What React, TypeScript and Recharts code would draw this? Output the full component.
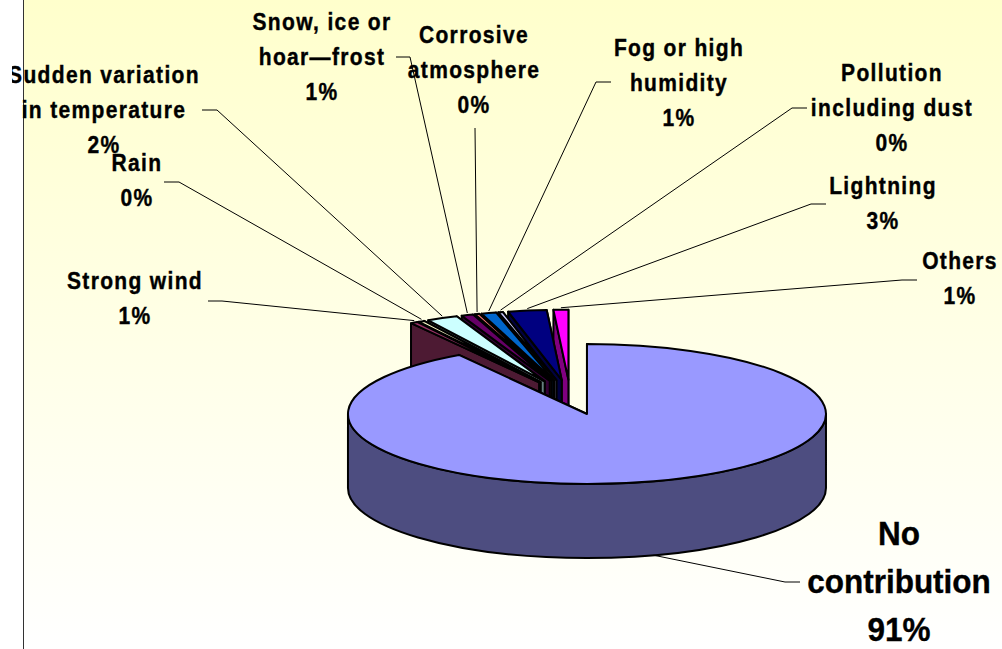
import { PieChart, Pie, Cell } from 'recharts';

// Slices in draw order: back of the pie first, the big slice last so it sits on top
const categories = [
  'Others',
  'Lightning',
  'Pollution including dust',
  'Fog or high humidity',
  'Corrosive atmosphere',
  'Snow, ice or hoar—frost',
  'Sudden variation in temperature',
  'Rain',
  'Strong wind',
  'No contribution',
];
const shares = [1.0, 2.6, 0.3, 1.0, 0.3, 0.8, 2.1, 0.4, 0.5, 91.0];
const sliceColors = [
  '#FF00FF', '#000080', '#CCCCFF', '#0066CC', '#FF8080',
  '#660066', '#CCFFFF', '#FFFFCC', '#993366', '#9999FF',
];
const wallColors = [
  '#800080', '#000040', '#666680', '#003366', '#804040',
  '#330033', '#668080', '#808066', '#4D1A33', '#4D4D80',
];

const data = categories.map((name, i) => ({ name, value: shares[i], fill: sliceColors[i], wall: wallColors[i] }));

const WIDTH = 1002;
const HEIGHT = 649;
const CX = 570.3;
const CY = 397.2;
const RX = 239;
const RY = 70;
const DEPTH = 74;
const EXPLODE = 0.25;
const FONT = '"Liberation Sans", Arial, sans-serif';

type Place = { x: number; y: number; text: string[]; from: [number, number]; bend: [number, number] };

// Where each callout sits and where its leader line leaves the text
const callouts: Record<string, Place> = {
  Others: { x: 960, y: 261, text: ['Others'], from: [917, 280], bend: [902, 280] },
  Lightning: { x: 883, y: 186, text: ['Lightning'], from: [826, 204], bend: [811, 204] },
  'Pollution including dust': { x: 892, y: 73, text: ['Pollution', 'including dust'], from: [807, 108], bend: [792, 108] },
  'Fog or high humidity': { x: 679, y: 48, text: ['Fog or high', 'humidity'], from: [611, 82], bend: [596, 82] },
  'Corrosive atmosphere': { x: 474, y: 35, text: ['Corrosive', 'atmosphere'], from: [475, 128], bend: [475, 128] },
  'Snow, ice or hoar—frost': { x: 322, y: 22, text: ['Snow, ice or', 'hoar—frost'], from: [396, 57], bend: [410, 57] },
  'Sudden variation in temperature': { x: 104, y: 75, text: ['Sudden variation', 'in temperature'], from: [202, 110], bend: [217, 110] },
  Rain: { x: 137, y: 163, text: ['Rain'], from: [164, 182], bend: [179, 182] },
  'Strong wind': { x: 135, y: 281, text: ['Strong wind'], from: [208, 301], bend: [222, 301] },
  'No contribution': { x: 899, y: 534, text: ['No', 'contribution'], from: [800, 582], bend: [785, 582] },
};

const rad = (deg: number) => (deg * Math.PI) / 180;

// Apex of a slice once it has been pulled out along its middle angle
const apexOf = (cx: number, cy: number, start: number, end: number, rx: number) => {
  const mid = rad((start + end) / 2);
  return {
    x: cx + EXPLODE * rx * Math.cos(mid),
    y: cy - EXPLODE * rx * (RY / RX) * Math.sin(mid),
  };
};

const arcPoint = (ax: number, ay: number, rx: number, deg: number) => ({
  x: ax + rx * Math.cos(rad(deg)),
  y: ay - rx * (RY / RX) * Math.sin(rad(deg)),
});

// Pie slice tilted into an ellipse with a side wall below it
const TiltedSlice = (props: any) => {
  const { cx, cy, outerRadius, startAngle, endAngle, fill, payload } = props;
  const rx = outerRadius;
  const ry = rx * (RY / RX);
  const apex = apexOf(cx, cy, startAngle, endAngle, rx);
  const p0 = arcPoint(apex.x, apex.y, rx, startAngle);
  const p1 = arcPoint(apex.x, apex.y, rx, endAngle);
  const large = endAngle - startAngle > 180 ? 1 : 0;
  const wall = payload?.wall ?? props.wall;
  const edge = { stroke: '#000', strokeWidth: 2, strokeLinejoin: 'round' as const };

  const top = `M${apex.x},${apex.y} L${p0.x},${p0.y} A${rx},${ry} 0 ${large} 0 ${p1.x},${p1.y} Z`;
  const radial = (p: { x: number; y: number }) =>
    `M${apex.x},${apex.y} L${p.x},${p.y} L${p.x},${p.y + DEPTH} L${apex.x},${apex.y + DEPTH} Z`;

  // Only the part of the rim on the near side of the pie shows a wall
  const rims: { a: number; b: number }[] = [];
  for (const [lo, hi] of [[180, 360], [540, 720]]) {
    const a = Math.max(startAngle, lo);
    const b = Math.min(endAngle, hi);
    if (b > a) rims.push({ a, b });
  }

  return (
    <g>
      <path d={radial(p0)} fill={wall} {...edge} />
      <path d={radial(p1)} fill={wall} {...edge} />
      {rims.map(({ a, b }) => {
        const s = arcPoint(apex.x, apex.y, rx, a);
        const e = arcPoint(apex.x, apex.y, rx, b);
        const big = b - a > 180 ? 1 : 0;
        return (
          <path
            key={a}
            d={`M${s.x},${s.y} A${rx},${ry} 0 ${big} 0 ${e.x},${e.y} L${e.x},${e.y + DEPTH} A${rx},${ry} 0 ${big} 1 ${s.x},${s.y + DEPTH} Z`}
            fill={wall}
            {...edge}
          />
        );
      })}
      <path d={top} fill={fill} {...edge} />
    </g>
  );
};

const Callout = (props: any) => {
  const name = props.name ?? props.payload?.name;
  const value = props.value ?? props.payload?.value;
  const place = callouts[name];
  if (!place) return null;
  const big = name === 'No contribution';
  const size = big ? 31.5 : 21;
  const gap = big ? 48 : 34.6;
  const lines = [...place.text, `${Math.round(value)}%`];
  return (
    <g>
      {lines.map((line, i) => (
        // Lettering is a little taller than it is wide
        <text
          key={i}
          transform={`translate(${place.x},${place.y + i * gap + size * (big ? 0.36 : 0.4)}) scale(1,${big ? 1.08 : 1.14})`}
          textAnchor="middle"
          fontFamily={FONT}
          fontWeight={700}
          fontSize={size}
          letterSpacing={big ? 0 : 1.35}
          fill="#000"
          stroke="#000"
          strokeWidth={0.35}
        >
          {line}
        </text>
      ))}
    </g>
  );
};

const Leader = (props: any) => {
  const name = props.name ?? props.payload?.name;
  const place = callouts[name];
  if (!place) return null;
  const { cx, cy, outerRadius, startAngle, endAngle } = props;
  const apex = apexOf(cx, cy, startAngle, endAngle, outerRadius);
  const tip = arcPoint(apex.x, apex.y, outerRadius, (startAngle + endAngle) / 2);
  // Leaders to near-side slices land on the bottom of the wall
  const sin = Math.sin(rad((startAngle + endAngle) / 2));
  const tipY = sin < 0 ? tip.y + DEPTH : tip.y - 2;
  return (
    <polyline
      points={`${place.from.join(',')} ${place.bend.join(',')} ${tip.x},${tipY}`}
      fill="none"
      stroke="#000"
      strokeWidth={1}
    />
  );
};

export default function App() {
  return (
    <div style={{ position: 'absolute', left: 0, top: 0, width: WIDTH, height: HEIGHT, background: '#fff', overflow: 'hidden' }}>
      <div
        style={{
          position: 'absolute',
          left: 23,
          top: 0,
          width: WIDTH - 23,
          height: HEIGHT,
          boxSizing: 'border-box',
          borderLeft: '1px solid #333',
          background: 'linear-gradient(to bottom, #FFFFCC, #FFFFFF)',
        }}
      />
      <div style={{ position: 'absolute', left: 0, top: 0 }}>
        <PieChart width={WIDTH} height={HEIGHT} margin={{ top: 0, right: 0, bottom: 0, left: 0 }}>
          <Pie
            data={data}
            dataKey="value"
            nameKey="name"
            cx={CX}
            cy={CY}
            outerRadius={RX}
            startAngle={90}
            endAngle={450}
            stroke="#000"
            isAnimationActive={false}
            shape={TiltedSlice}
            label={Callout}
            labelLine={Leader}
          >
            {data.map((d) => (
              <Cell key={d.name} fill={d.fill} />
            ))}
          </Pie>
        </PieChart>
      </div>
      {/* Callout text runs off the left edge of the slide */}
      <div style={{ position: 'absolute', left: 0, top: 0, width: 12, height: HEIGHT, background: '#fff' }} />
    </div>
  );
}
